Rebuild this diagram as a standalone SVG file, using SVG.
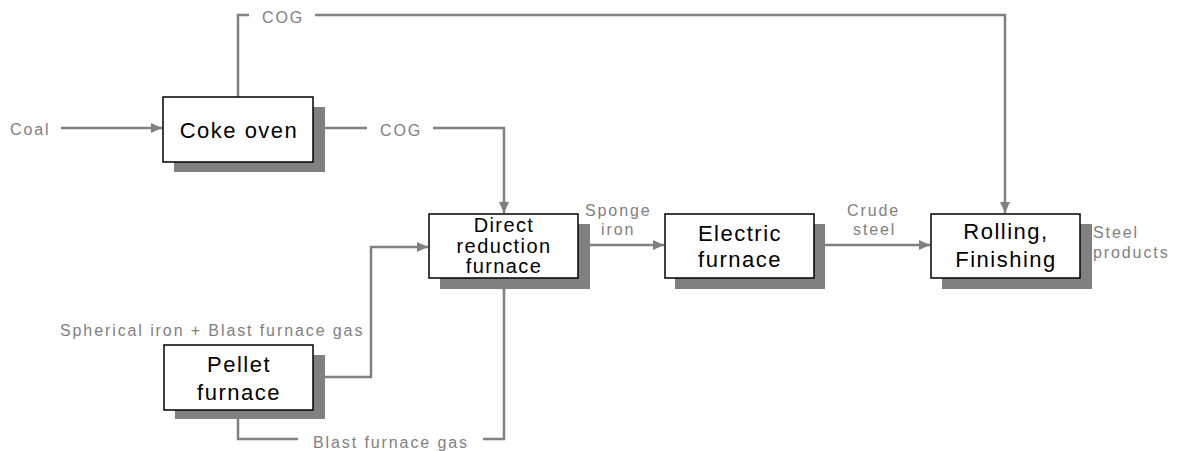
<svg xmlns="http://www.w3.org/2000/svg" width="1179" height="451" viewBox="0 0 1179 451">
<style>
.bg{fill:#ffffff}
.box{fill:#ffffff;stroke:#000000;stroke-width:1.5}
.shadow{fill:#808080}
.conn{fill:none;stroke:#808080;stroke-width:2.5}
.lbl{font-family:"Liberation Sans",Arial,sans-serif;font-size:16px;fill:#808080;letter-spacing:1.9px}
.name{font-family:"Liberation Sans",Arial,sans-serif;font-size:22px;fill:#000000;letter-spacing:1.5px;text-anchor:middle}
.small{font-size:20px;letter-spacing:1.4px}
</style>
<defs>
<marker id="arr" markerUnits="userSpaceOnUse" markerWidth="12" markerHeight="12" viewBox="0 0 12 12" refX="11" refY="6" orient="auto">
<path d="M0,1 L11,6 L0,11 Z" fill="#808080"/>
</marker>
</defs>
<rect class="bg" x="0" y="0" width="1179" height="451"/>
<g id="connectors">
<path class="conn" d="M61,128 H162" marker-end="url(#arr)"/>
<path class="conn" d="M238,97 V15 H249"/>
<path class="conn" d="M315,15 H1005 V213" marker-end="url(#arr)"/>
<path class="conn" d="M313,128 H367"/>
<path class="conn" d="M433,128 H504 V213" marker-end="url(#arr)"/>
<path class="conn" d="M313,377 H371 V247 H428" marker-end="url(#arr)"/>
<path class="conn" d="M238,410 V439 H298"/>
<path class="conn" d="M483,439 H504 V278"/>
<path class="conn" d="M578,245 H664" marker-end="url(#arr)"/>
<path class="conn" d="M814,245 H930" marker-end="url(#arr)"/>
</g>
<g id="labels">
<text class="lbl" x="262" y="23">COG</text>
<text class="lbl" x="10" y="135">Coal</text>
<text class="lbl" x="380" y="136">COG</text>
<text class="lbl" x="585" y="216">Sponge</text>
<text class="lbl" x="601" y="235">iron</text>
<text class="lbl" x="847" y="216">Crude</text>
<text class="lbl" x="853" y="235">steel</text>
<text class="lbl" x="1093" y="238">Steel</text>
<text class="lbl" x="1093" y="258">products</text>
<text class="lbl" x="60" y="336">Spherical iron + Blast furnace gas</text>
<text class="lbl" x="313" y="448">Blast furnace gas</text>
</g>
<g id="coke-oven">
<rect class="shadow" x="174" y="107" width="151" height="65"/>
<rect class="box" x="163" y="97" width="150" height="65"/>
<text class="name" x="239" y="138">Coke oven</text>
</g>
<g id="direct-reduction-furnace">
<rect class="shadow" x="440" y="224" width="150" height="65"/>
<rect class="box" x="429" y="214" width="149" height="64"/>
<text class="name small" x="504" y="232">Direct</text>
<text class="name small" x="504" y="253">reduction</text>
<text class="name small" x="504" y="273">furnace</text>
</g>
<g id="pellet-furnace">
<rect class="shadow" x="175" y="355" width="150" height="64"/>
<rect class="box" x="164" y="345" width="149" height="65"/>
<text class="name" x="239" y="372">Pellet</text>
<text class="name" x="239" y="400">furnace</text>
</g>
<g id="electric-furnace">
<rect class="shadow" x="675" y="224" width="150" height="65"/>
<rect class="box" x="665" y="214" width="149" height="64"/>
<text class="name" x="740" y="241">Electric</text>
<text class="name" x="740" y="267">furnace</text>
</g>
<g id="rolling-finishing">
<rect class="shadow" x="942" y="224" width="150" height="65"/>
<rect class="box" x="931" y="214" width="149" height="64"/>
<text class="name" x="1006" y="239">Rolling,</text>
<text class="name" x="1006" y="267">Finishing</text>
</g>
</svg>
